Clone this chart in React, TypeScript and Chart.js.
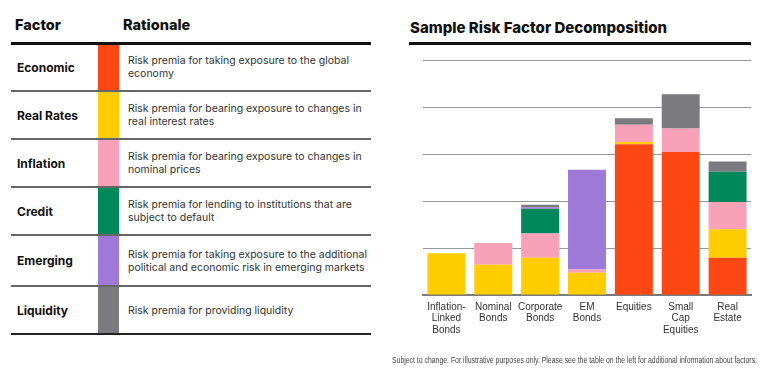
import React, { useEffect, useLayoutEffect, useRef } from "react";
import { Chart, registerables } from "chart.js";

Chart.register(...registerables);

const categories: string[][] = [
  ["Inflation-", "Linked", "Bonds"],
  ["Nominal", "Bonds"],
  ["Corporate", "Bonds"],
  ["EM", "Bonds"],
  ["Equities"],
  ["Small", "Cap", "Equities"],
  ["Real", "Estate"],
];

const factorNames = ["Economic", "Real Rates", "Inflation", "Credit", "Emerging", "Liquidity"];
const factorColors = ["#FF4713", "#FFCD00", "#F8A1B9", "#00875A", "#9E79D7", "#7B7A7F"];
const factorRationale = [
  ["Risk premia for taking exposure to the global", "economy"],
  ["Risk premia for bearing exposure to changes in", "real interest rates"],
  ["Risk premia for bearing exposure to changes in", "nominal prices"],
  ["Risk premia for lending to institutions that are", "subject to default"],
  ["Risk premia for taking exposure to the additional", "political and economic risk in emerging markets"],
  ["Risk premia for providing liquidity"],
];

const economic = [0, 0, 0, 0, 3.21, 3.04, 0.79];
const realRates = [0.89, 0.645, 0.79, 0.475, 0.045, 0, 0.61];
const inflation = [0, 0.46, 0.52, 0.07, 0.37, 0.5, 0.58];
const credit = [0, 0, 0.525, 0, 0, 0, 0.64];
const emerging = [0, 0, 0.03, 2.12, 0, 0, 0];
const liquidity = [0, 0, 0.055, 0, 0.135, 0.73, 0.22];

const seriesValues = [economic, realRates, inflation, credit, emerging, liquidity];
const yTicks = [0, 1, 2, 3, 4, 5];

const title = "Sample Risk Factor Decomposition";
const footnote =
  "Subject to change. For illustrative purposes only. Please see the table on the left for additional information about factors.";

const rowTops = [43, 91, 139, 187, 235, 286];
const rowBottom = 334;

function RiskChart() {
  const ref = useRef<HTMLCanvasElement | null>(null);
  useEffect(() => {
    if (!ref.current) return;
    const chart = new Chart(ref.current, {
      type: "bar",
      data: {
        labels: categories,
        datasets: seriesValues.map((vals, i) => ({
          label: factorNames[i],
          data: vals,
          backgroundColor: factorColors[i],
          borderWidth: 0,
          barPercentage: 0.81,
          categoryPercentage: 1,
        })),
      },
      options: {
        responsive: false,
        animation: false,
        devicePixelRatio: 1,
        layout: { padding: { left: 23, right: 17, top: 60, bottom: 35 } },
        plugins: { legend: { display: false }, tooltip: { enabled: false }, title: { display: false } },
        scales: {
          x: {
            stacked: true,
            grid: { display: false, drawTicks: false },
            border: { display: true, color: "#7a7a7a", width: 2 },
            ticks: {
              padding: 6,
              color: "#333",
              font: { family: "Liberation Sans", size: 10, lineHeight: 1.15 },
              maxRotation: 0,
              autoSkip: false,
            },
            afterFit: (s: any) => {
              s.height = 45;
            },
          },
          y: {
            stacked: true,
            min: 0,
            max: 5,
            afterBuildTicks: (s: any) => {
              s.ticks = yTicks.map((v) => ({ value: v }));
            },
            ticks: { display: false },
            grid: { color: "#999", lineWidth: 1, drawTicks: false },
            border: { display: false },
            afterFit: (s: any) => {
              s.width = 0;
            },
          },
        },
      },
    });
    return () => chart.destroy();
  }, []);
  return (
    <canvas
      ref={ref}
      width={368}
      height={375}
      style={{ position: "absolute", left: 400, top: 0, width: 368, height: 375 }}
    />
  );
}

function FitText({ text, width, style }: { text: string; width: number; style: React.CSSProperties }) {
  const ref = useRef<HTMLSpanElement | null>(null);
  useLayoutEffect(() => {
    const el = ref.current;
    if (!el) return;
    el.style.transform = "none";
    const w = el.getBoundingClientRect().width;
    if (w > 0) el.style.transform = `scaleX(${width / w})`;
  }, [text, width]);
  return (
    <span
      ref={ref}
      style={{ ...style, display: "inline-block", whiteSpace: "nowrap", transformOrigin: "left top" }}
    >
      {text}
    </span>
  );
}

export default function App() {
  const font = "Inter, 'Liberation Sans', sans-serif";
  return (
    <div
      style={{
        position: "fixed",
        left: 0,
        top: 0,
        width: 768,
        height: 375,
        background: "#fff",
        overflow: "hidden",
        fontFamily: font,
        color: "#111",
      }}
    >
      <div style={{ position: "absolute", left: 15, top: 15, fontSize: 14.5, fontWeight: 800, lineHeight: "20px" }}>
        Factor
      </div>
      <div style={{ position: "absolute", left: 123, top: 15, fontSize: 14.5, fontWeight: 800, lineHeight: "20px" }}>
        Rationale
      </div>
      {factorColors.map((c, i) => (
        <div
          key={"c" + i}
          style={{
            position: "absolute",
            left: 98,
            width: 21,
            top: rowTops[i],
            height: (i + 1 < rowTops.length ? rowTops[i + 1] : rowBottom) - rowTops[i],
            background: c,
          }}
        />
      ))}
      {rowTops.map((t, i) => (
        <div
          key={"l" + i}
          style={{
            position: "absolute",
            left: 11,
            width: 360,
            top: i === 0 ? t - 1.5 : t - 0.75,
            height: i === 0 ? 3 : 1.5,
            background: i === 0 ? "#111" : "#666",
          }}
        />
      ))}
      <div style={{ position: "absolute", left: 11, width: 360, top: rowBottom - 1.25, height: 2.5, background: "#222" }} />
      {factorNames.map((n, i) => {
        const top = rowTops[i];
        const bot = i + 1 < rowTops.length ? rowTops[i + 1] : rowBottom;
        return (
          <React.Fragment key={"r" + i}>
            <div
              style={{
                position: "absolute",
                left: 17,
                top,
                height: bot - top,
                display: "flex",
                alignItems: "center",
                fontSize: 12,
                fontWeight: 700,
              }}
            >
              {n}
            </div>
            <div
              style={{
                position: "absolute",
                left: 128,
                top,
                height: bot - top,
                display: "flex",
                flexDirection: "column",
                justifyContent: "center",
                fontSize: 10.5,
                lineHeight: "13px",
                color: "#333",
                letterSpacing: 0,
              }}
            >
              {factorRationale[i].map((l, j) => (
                <div key={j} style={{ whiteSpace: "nowrap" }}>
                  {l}
                </div>
              ))}
            </div>
          </React.Fragment>
        );
      })}
      <div style={{ position: "absolute", left: 410, top: 18, fontSize: 15, fontWeight: 800, lineHeight: "20px" }}>
        {title}
      </div>
      <div style={{ position: "absolute", left: 409, width: 342, top: 41.5, height: 3, background: "#111" }} />
      <RiskChart />
      <div style={{ position: "absolute", left: 392, top: 351, lineHeight: "12px" }}>
        <FitText
          text={footnote}
          width={365}
          style={{ fontSize: 9, color: "#444", fontFamily: "'Liberation Sans', sans-serif", lineHeight: "12px" }}
        />
      </div>
    </div>
  );
}
